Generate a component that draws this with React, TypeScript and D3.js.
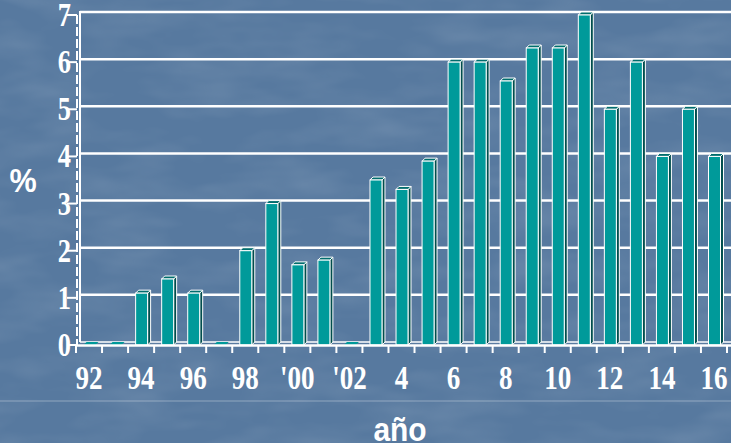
import React from 'react';
import * as d3 from 'd3';

const years = ['1992','1993','1994','1995','1996','1997','1998','1999','2000','2001','2002','2003','2004','2005','2006','2007','2008','2009','2010','2011','2012','2013','2014','2015','2016'];
const values = [0, 0, 1.1, 1.4, 1.1, 0, 2.0, 3.0, 1.7, 1.8, 0, 3.5, 3.3, 3.9, 6.0, 6.0, 5.6, 6.3, 6.3, 7.0, 5.0, 6.0, 4.0, 5.0, 4.0];
const labelYears = ['1992','1994','1996','1998','2000','2002','2004','2006','2008','2010','2012','2014','2016'];
const labelTexts = ['92','94','96','98',"'00","'02",'4','6','8','10','12','14','16'];
const yTicks = [0, 1, 2, 3, 4, 5, 6, 7];
const yTitle = '%';
const xTitle = 'año';

const W = 731;
const H = 443;
const DX = 3;
const DY = -3;

export default function App() {
  const x = d3.scaleBand<string>().domain(years).range([76, 727]).paddingInner(0).paddingOuter(0);
  const y = d3.scaleLinear().domain([0, 7]).range([345, 15]);
  const bw = x.bandwidth();
  const y0 = y(0);
  const serif = '"Liberation Serif", "Times New Roman", serif';
  const sans = '"Liberation Sans", Arial, sans-serif';
  const boundaries = d3.range(years.length + 1).map(i => 76 + i * bw);

  return (
    <svg width={W} height={H} style={{ position: 'absolute', left: 0, top: 0, display: 'block' }}>
      <defs>
        <filter id="tex" x="0" y="0" width="100%" height="100%">
          <feTurbulence type="fractalNoise" baseFrequency="0.012 0.035" numOctaves={3} seed={7} />
          <feColorMatrix type="matrix" values="0 0 0 0 1  0 0 0 0 1  0 0 0 0 1  0 0 0 0.9 -0.35" />
        </filter>
      </defs>
      <rect x={0} y={0} width={W} height={H} fill="#57799f" />
      <rect x={0} y={0} width={W} height={H} filter="url(#tex)" opacity={0.2} />
      <line x1={0} x2={W} y1={401} y2={401} stroke="#ffffff" strokeOpacity={0.35} strokeWidth={1} />

      {/* back wall gridlines */}
      {yTicks.map(t => (
        <line key={'g' + t} x1={76 + DX + 1} x2={W} y1={y(t) + DY} y2={y(t) + DY} stroke="#fff" strokeWidth={t === 0 ? 1.5 : 2.5} />
      ))}
      {/* back wall left edge */}
      <line x1={76 + DX + 1} x2={76 + DX + 1} y1={y(7) + DY - 1} y2={y0 + DY} stroke="#fff" strokeWidth={2} />
      {/* front y axis (dashed) */}
      <line x1={77} x2={77} y1={y(7)} y2={y0} stroke="#fff" strokeWidth={2} strokeDasharray="9,3" />
      {yTicks.map(t => (
        <line key={'yt' + t} x1={67} x2={77} y1={y(t)} y2={y(t)} stroke="#fff" strokeWidth={2} />
      ))}

      {/* bars */}
      {years.map((yr, i) => {
        const v = values[i];
        const xf = (x(yr) as number) + bw * 0.29;
        const w = bw * 0.46;
        const top = y(v);
        const side = `${xf + w},${top} ${xf + w + DX},${top + DY} ${xf + w + DX},${y0 + DY} ${xf + w},${y0}`;
        const topFace = `${xf},${top} ${xf + DX},${top + DY} ${xf + w + DX},${top + DY} ${xf + w},${top}`;
        if (v === 0) {
          return <polygon key={yr} points={topFace} fill="#009999" stroke="none" />;
        }
        return (
          <g key={yr}>
            <polygon points={side} fill="#004d4d" stroke="#fff" strokeWidth={1} />
            <polygon points={topFace} fill="#006d6d" stroke="#fff" strokeWidth={1} />
            <rect x={xf} y={top} width={w} height={y0 - top} fill="#009a9a" stroke="#fff" strokeWidth={1} />
          </g>
        );
      })}

      {/* front x axis */}
      <line x1={76} x2={W} y1={y0 + 0.5} y2={y0 + 0.5} stroke="#fff" strokeWidth={2.5} />
      {boundaries.map((bx, i) => (
        <line key={'xt' + i} x1={bx} x2={bx} y1={y0} y2={y0 + 8} stroke="#fff" strokeWidth={2} />
      ))}

      {/* y tick labels */}
      {yTicks.map(t => (
        <text key={'yl' + t} transform={`translate(71,${y(t) + 11}) scale(0.8,1)`} textAnchor="end"
          fontFamily={serif} fontWeight="bold" fontSize={33} fill="#fff">{t}</text>
      ))}
      {/* x tick labels */}
      {labelYears.map((yr, i) => (
        <text key={'xl' + yr} transform={`translate(${(x(yr) as number) + bw / 2},389) scale(0.82,1)`} textAnchor="middle"
          fontFamily={serif} fontWeight="bold" fontSize={33} fill="#fff">{labelTexts[i]}</text>
      ))}

      <text transform="translate(23,192) scale(0.9,1)" textAnchor="middle" fontFamily={sans} fontWeight="bold" fontSize={34} fill="#fff">{yTitle}</text>
      <text transform="translate(400,441) scale(0.88,1)" textAnchor="middle" fontFamily={sans} fontWeight="bold" fontSize={34} fill="#fff">{xTitle}</text>
    </svg>
  );
}
